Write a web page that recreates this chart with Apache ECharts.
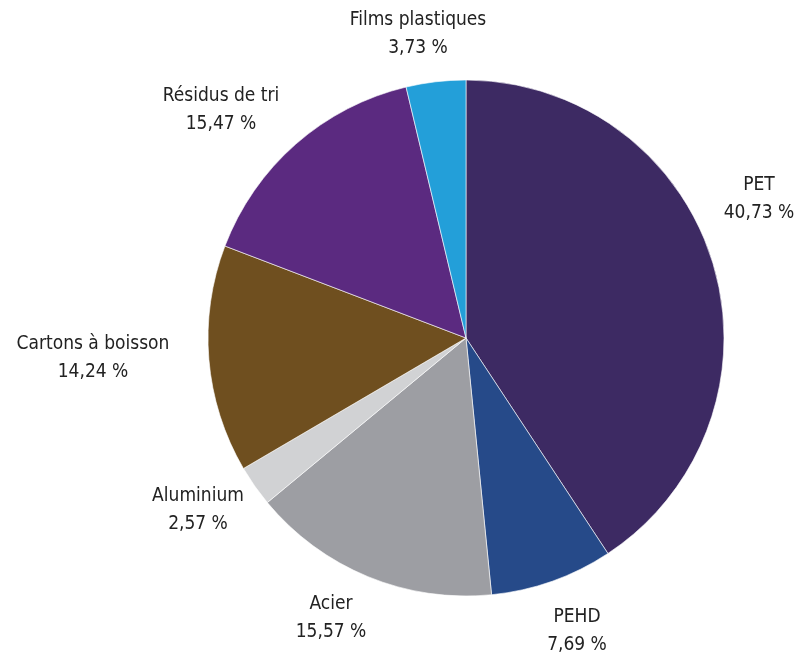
<!DOCTYPE html>
<html><head><meta charset="utf-8">
<script src="https://cdn.jsdelivr.net/npm/echarts@6/dist/echarts.min.js"></script>
<style>html,body{margin:0;padding:0;background:#fff}#c{width:800px;height:660px}</style>
</head><body><div id="c"></div>
<script>
const categories = ['PET','PEHD','Acier','Aluminium','Cartons à boisson','Résidus de tri','Films plastiques'];
const values = [40.73, 7.69, 15.57, 2.57, 14.24, 15.47, 3.73];
const colors = ['#3d2a63','#264a89','#9d9ea3','#d1d2d4','#6f4f1f','#5b2a80','#239fd9'];
// label anchor centres (text placement only)
const labelPos = [[759,199],[577,631],[331,618],[198,510],[93,358],[221,110],[418,34]];

const chart = echarts.init(document.getElementById('c'), null, {renderer:'canvas'});
chart.setOption({
  animation:false,
  series:[{
    type:'pie',
    center:[466,338],
    radius:[0,258],
    startAngle:90,
    clockwise:true,
    data: categories.map((n,i)=>({name:n,value:values[i],itemStyle:{color:colors[i]}})),
    itemStyle:{borderColor:'#fff',borderWidth:0.6},
    label:{
      show:true,position:'outside',overflow:'none',
      formatter:p=>p.name+'\n'+values[p.dataIndex].toFixed(2).replace('.',',')+' %',
      fontFamily:'"DejaVu Sans Condensed", sans-serif',
      fontSize:19,color:'#222',lineHeight:28,align:'center'
    },
    labelLine:{show:false},
    labelLayout:p=>({x:labelPos[p.dataIndex][0],y:labelPos[p.dataIndex][1],align:'center',verticalAlign:'middle'})
  }]
});
</script></body></html>
